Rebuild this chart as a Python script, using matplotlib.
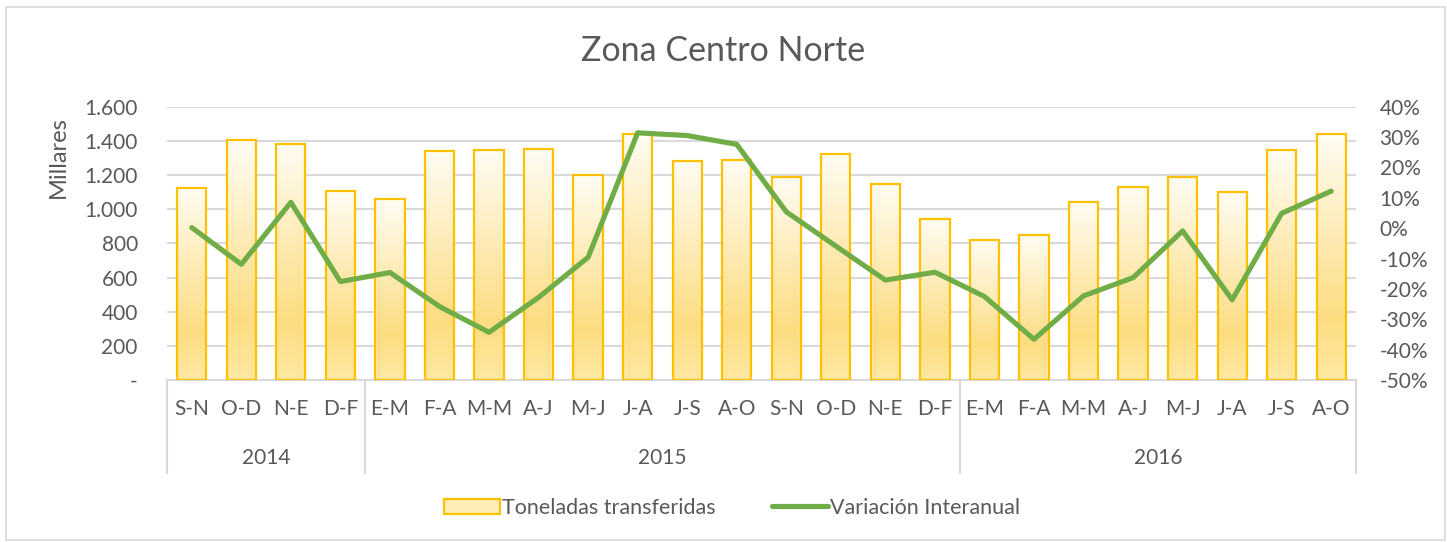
import matplotlib.pyplot as plt
import numpy as np
from matplotlib.colors import LinearSegmentedColormap
from matplotlib.patches import Rectangle, Patch
from matplotlib.lines import Line2D
from matplotlib.ticker import FuncFormatter

plt.rcParams['font.family'] = ['Lato', 'DejaVu Sans']

meses = ["S-N", "O-D", "N-E", "D-F",
         "E-M", "F-A", "M-M", "A-J", "M-J", "J-A", "J-S", "A-O", "S-N", "O-D", "N-E", "D-F",
         "E-M", "F-A", "M-M", "A-J", "M-J", "J-A", "J-S", "A-O"]
anios = ["2014", "2015", "2016"]
n_por_anio = [4, 12, 8]
toneladas = [1126, 1403, 1382, 1107, 1058, 1339, 1347, 1352, 1198, 1440, 1282, 1286,
             1188, 1325, 1148, 944, 818, 847, 1044, 1130, 1187, 1101, 1345, 1440]
variacion = [0.2, -11.9, 8.5, -17.6, -14.6, -25.8, -34.3, -22.8, -9.6, 31.4, 30.5, 27.6,
             5.4, -5.9, -17.1, -14.5, -22.5, -36.6, -22.3, -16.3, -0.9, -23.6, 4.9, 12.2]

gris = "#595959"
linea = "#D9D9D9"
oro = "#FFC000"
verde = "#70AD47"

fig = plt.figure(figsize=(14.47, 5.42), dpi=100)
fig.patches.append(Rectangle((6/1447, 0.004), 1439/1447, 1 - 7/542 - 0.004, transform=fig.transFigure,
                             fill=False, edgecolor=linea, lw=1.2))
ax = fig.add_axes([167/1447, 1 - 380/542, (1356 - 167)/1447, (380 - 106.7)/542])

x = np.arange(len(meses))
w = 0.59
cmap = LinearSegmentedColormap.from_list("oro", [(0, "#FFE8A2"), (0.25, "#FDDD82"), (1, "#FFFCF3")])
grad = np.linspace(0, 1, 256).reshape(-1, 1)
for xi, h in zip(x, toneladas):
    ax.imshow(grad, extent=[xi - w/2, xi + w/2, 0, h], origin="lower", cmap=cmap,
              aspect="auto", zorder=2)
    ax.add_patch(Rectangle((xi - w/2, 0), w, h, fill=False, edgecolor=oro, lw=1.6, zorder=3))

ax.set_xlim(-0.5, len(meses) - 0.5)
ax.set_ylim(0, 1600)
ax.set_yticks(np.arange(0, 1601, 200))
ax.yaxis.set_major_formatter(FuncFormatter(lambda v, p: "-" if v == 0 else f"{int(v):,}".replace(",", ".")))
ax.grid(axis="y", color=linea, lw=1.5, zorder=0)
ax.set_axisbelow(True)
for s in ["top", "left", "right"]:
    ax.spines[s].set_visible(False)
ax.spines["bottom"].set_color(linea)
ax.spines["bottom"].set_linewidth(1.5)
ax.tick_params(axis="y", length=0, pad=21, labelsize=15, labelcolor=gris)
ax.set_xticks(x)
ax.set_xticklabels(meses)
ax.tick_params(axis="x", length=0, pad=14, labelsize=15, labelcolor=gris)

# segundo nivel de categorias (años)
inicio = -0.5
tr = ax.get_xaxis_transform()
ax.plot([inicio, inicio], [0, -0.34], transform=tr, color=linea, lw=1.5, clip_on=False)
for anio, n in zip(anios, n_por_anio):
    fin = inicio + n
    ax.text((inicio + fin) / 2, -0.285, anio, transform=tr, ha="center", va="center",
            fontsize=15, color=gris)
    ax.plot([fin, fin], [0, -0.34], transform=tr, color=linea, lw=1.5, clip_on=False)
    inicio = fin

ax2 = ax.twinx()
ax2.plot(x, np.array(variacion) / 100, color=verde, lw=3.7, solid_capstyle="round",
         solid_joinstyle="round", zorder=4)
ax2.set_ylim(-0.5, 0.4)
ax2.set_yticks(np.arange(-0.5, 0.41, 0.1))
ax2.yaxis.set_major_formatter(FuncFormatter(lambda v, p: f"{round(v*100):d}%"))
ax2.tick_params(axis="y", length=0, pad=17, labelsize=15, labelcolor=gris)
for s in ax2.spines.values():
    s.set_visible(False)

fig.text(0.5, 1 - 51/542, "Zona Centro Norte", ha="center", va="center", fontsize=24.5, color=gris)
fig.text(58/1447, 1 - 157/542, "Millares", ha="center", va="center", rotation=90,
         fontsize=17, color=gris)

handles = [Patch(facecolor="#FEEDB8", edgecolor=oro, lw=1.6),
           Line2D([0], [0], color=verde, lw=3.7, solid_capstyle="round")]
fig.legend(handles, ["Toneladas transferidas", "Variación Interanual"], loc="center",
           bbox_to_anchor=(0.506, 1 - 508/542), ncol=2, frameon=False, fontsize=15.5,
           labelcolor=gris, handlelength=2.6, handletextpad=0.1, columnspacing=2.6)

fig.savefig("out.png", dpi=100)
